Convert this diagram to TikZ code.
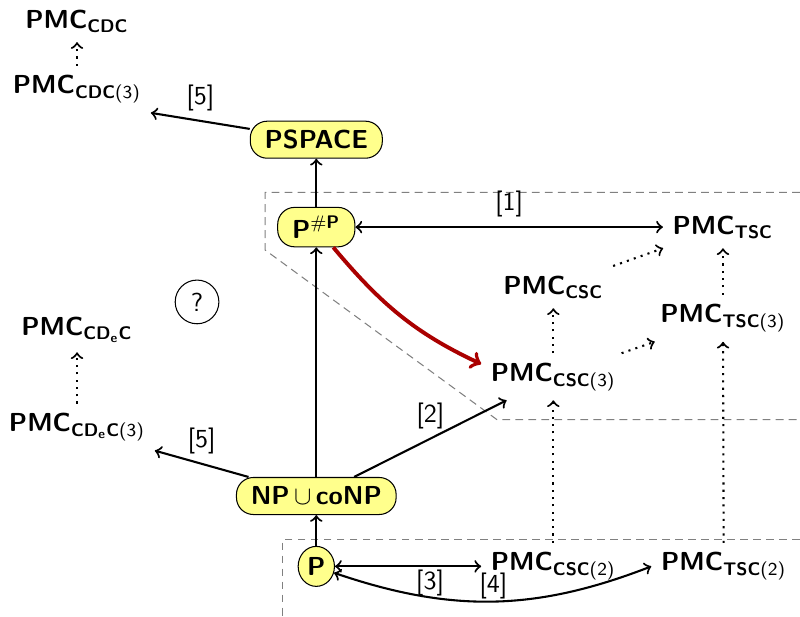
\documentclass[tikz,border=0pt]{standalone}
\usetikzlibrary{shapes.geometric}
\definecolor{clsyellow}{RGB}{255,255,140}
\definecolor{redarrow}{RGB}{170,0,0}
\tikzset{cls/.style={draw, thin, fill=clsyellow, rounded corners=6.5pt, inner xsep=5.5pt, minimum height=0.5cm, font=\sffamily\bfseries},
  pmc/.style={font=\sffamily\bfseries},
  lbl/.style={font=\sffamily},
  region/.style={gray, thin, dash pattern=on 3pt off 2pt}}
\newcommand{\pmc}[1]{PMC\textsubscript{#1}}

\begin{document}
\begin{tikzpicture}[thick]
   \useasboundingbox (0,0) rectangle (10.8,8.316);
   % regions
   \draw[region] (10.8,5.72) -- (3.58,5.72) -- (3.58,4.94) -- (6.71,2.65) -- (10.8,2.65);
   \draw[region] (10.8,1.03) -- (3.81,1.03) -- (3.81,0.00);
   % classes
   \node[cls] (ps) at (4.27,6.43) {PSPACE};
   \node[cls] (sp) at (4.27,5.25) {P\textsuperscript{\textmd{\#}P}};
   \node[cls] (np) at (4.27,1.62) {NP\,$\cup$\,coNP};
   \node[cls, ellipse, inner sep=1pt, minimum width=0.49cm, minimum height=0.54cm] (p) at (4.27,0.67) {P};
   % problems
   \node[pmc] (cdc)   at (1.04,8.03) {\pmc{CDC}};
   \node[pmc] (cdc3)  at (1.04,7.11) {\pmc{CDC\textmd{(3)}}};
   \node[pmc] (t)     at (9.76,5.25) {\pmc{TSC}};
   \node[pmc] (c)     at (7.47,4.44) {\pmc{CSC}};
   \node[pmc] (t3)    at (9.76,4.02) {\pmc{TSC\textmd{(3)}}};
   \node[pmc] (c3)    at (7.47,3.23) {\pmc{CSC\textmd{(3)}}};
   \node[pmc] (cdec)  at (1.04,3.86) {\pmc{CD\textsubscript{e}C}};
   \node[pmc] (cdec3) at (1.04,2.55) {\pmc{CD\textsubscript{e}C\textmd{(3)}}};
   \node[pmc] (c2)    at (7.47,0.67) {\pmc{CSC\textmd{(2)}}};
   \node[pmc] (t2)    at (9.77,0.67) {\pmc{TSC\textmd{(2)}}};
   \node[lbl, draw, thin, circle, minimum size=0.59cm, inner sep=1pt] (q) at (2.66,4.24) {?};
   % reductions
   \draw[->] (sp) -- (ps);
   \draw[->] (np) -- (sp);
   \draw[->] (p) -- (np);
   \draw[->] (ps) -- (cdc3.south east) node[lbl, midway, above] {[5]};
   \draw[->] (np) -- (cdec3.south east) node[lbl, midway, above] {[5]};
   \draw[->] (np) -- (c3) node[lbl, midway, above] {[2]};
   \draw[<->] (sp) -- (t) node[lbl, midway, above] {[1]};
   \draw[<->] (p) -- (c2) node[lbl, pos=0.65, below, inner sep=1pt] {[3]};
   \draw[<->] (p) to[bend right=20] node[lbl, midway, above, inner sep=0.5pt] {[4]} (t2.west);
   \draw[->, redarrow, line width=1.5pt] (sp.-50) to[out=-50, in=155] (c3.170);
   % inclusions
   \draw[->, dotted] (cdc3) -- (cdc);
   \draw[->, dotted] (cdec3) -- (cdec);
   \draw[->, dotted] (c3) -- (c);
   \draw[->, dotted] (c2) -- (c3);
   \draw[->, dotted] (t3) -- (t);
   \draw[->, dotted] (t2) -- (t3);
   \draw[->, dotted] (c) -- (t);
   \draw[->, dotted] (c3) -- (t3);
\end{tikzpicture}
\end{document}
